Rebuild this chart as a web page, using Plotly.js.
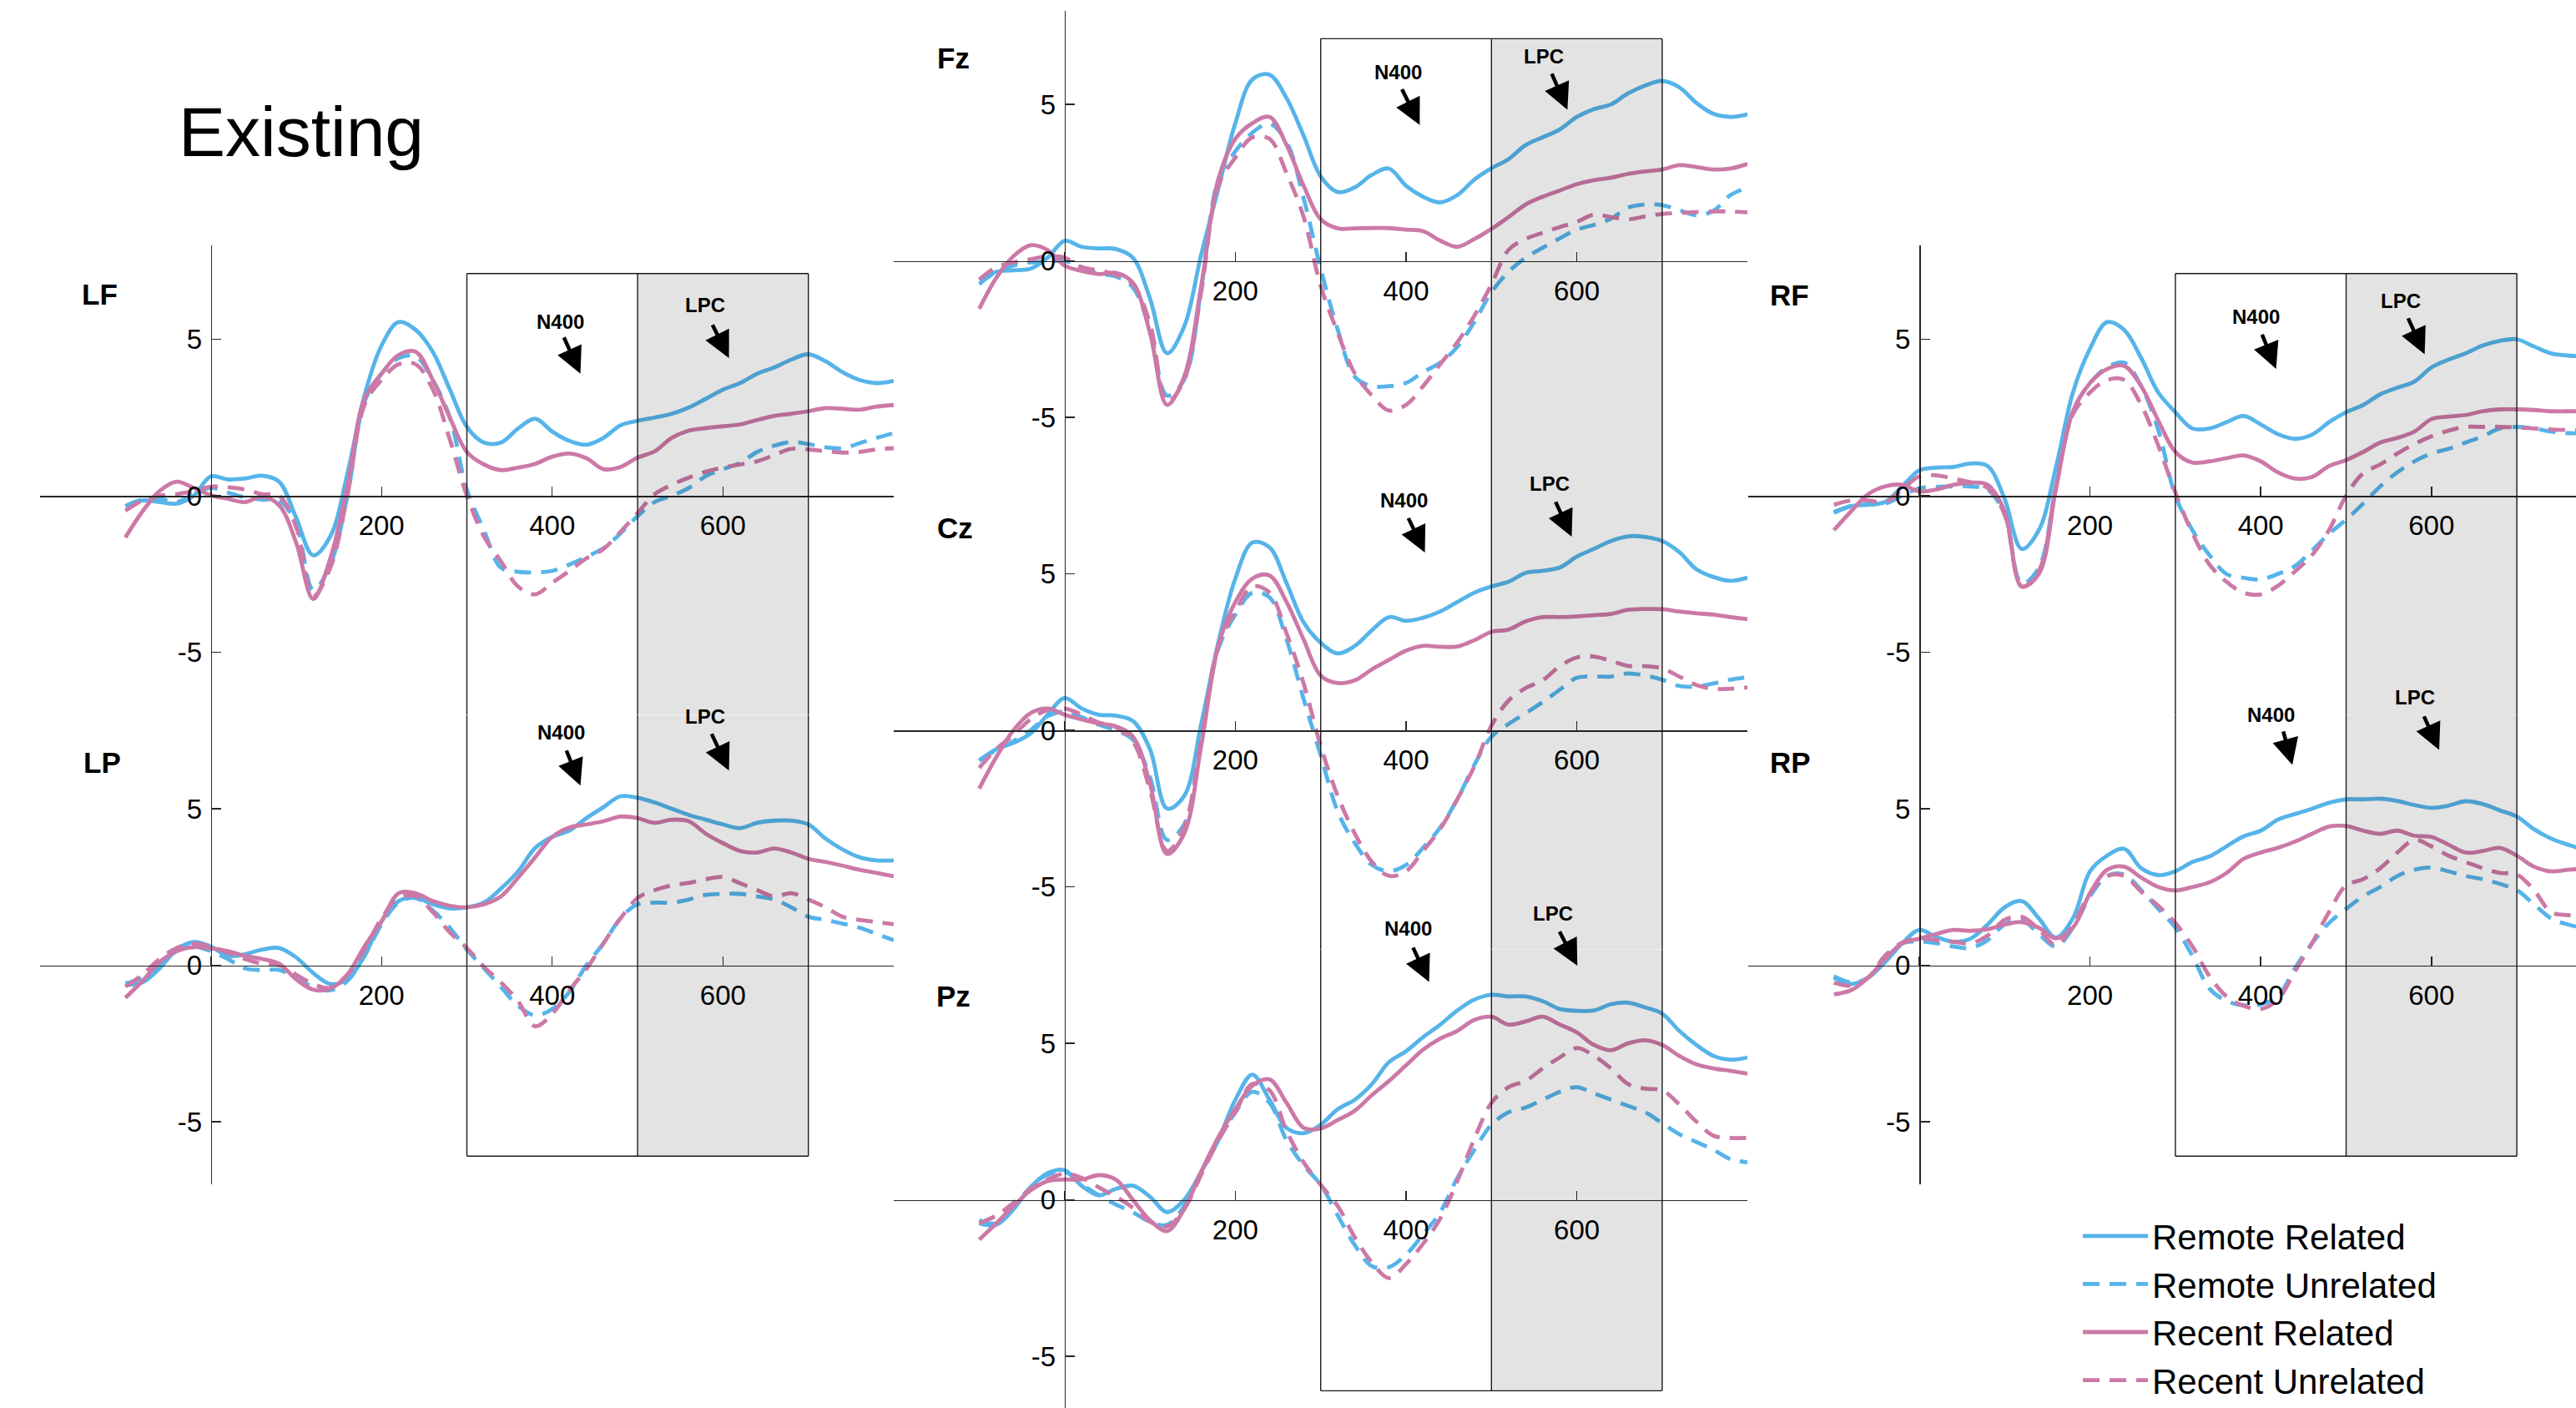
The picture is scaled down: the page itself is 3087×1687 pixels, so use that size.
<!DOCTYPE html>
<html>
<head>
<meta charset="utf-8">
<script src="https://cdn.plot.ly/plotly-3.0.1.min.js"></script>
<style>
html,body{margin:0;padding:0;background:#ffffff;overflow:hidden;}
#chart{width:3087px;height:1687px;}
</style>
</head>
<body>
<div id="chart"></div>
<script>
// ---------------- DATA ----------------
const time = [-100,-80,-60,-40,-20,0,20,40,60,80,100,120,140,160,180,200,220,240,260,280,300,320,340,360,380,400,420,440,460,480,500,520,540,560,580,600,620,640,660,680,700,720,740,760,780,800];

const conditionNames = ['Remote Related','Remote Unrelated','Recent Related','Recent Unrelated'];
const panelNames = ['LF','LP','Fz','Cz','Pz','RF','RP'];

const LF_remoteRelated    = [-0.33,-0.15,-0.2,-0.25,0.0,0.62,0.52,0.55,0.64,0.45,-0.7,-1.9,-1.3,0.7,3.2,4.8,5.55,5.3,4.6,3.4,2.2,1.7,1.7,2.15,2.46,2.05,1.75,1.63,1.85,2.25,2.4,2.5,2.62,2.82,3.1,3.39,3.6,3.9,4.1,4.35,4.52,4.3,3.95,3.7,3.6,3.67];
const LF_remoteUnrelated  = [-0.33,-0.12,-0.1,-0.2,0.05,0.25,0.1,-0.05,-0.12,-0.15,-0.9,-3.0,-2.2,0.0,3.0,3.9,4.4,4.45,3.7,2.5,0.2,-1.1,-2.3,-2.43,-2.45,-2.4,-2.2,-1.95,-1.67,-1.2,-0.65,-0.2,0.0,0.25,0.63,0.85,1.05,1.4,1.6,1.72,1.65,1.55,1.52,1.68,1.85,2.0];
const LF_recentRelated    = [-1.33,-0.5,0.15,0.45,0.25,0.02,-0.1,-0.2,-0.03,-0.3,-1.5,-3.3,-2.0,0.3,3.1,3.9,4.5,4.6,3.7,2.5,1.4,1.0,0.82,0.9,1.02,1.25,1.35,1.2,0.85,0.92,1.22,1.42,1.85,2.08,2.16,2.22,2.28,2.42,2.55,2.62,2.7,2.8,2.78,2.75,2.85,2.9];
const LF_recentUnrelated  = [-0.48,-0.15,0.0,0.05,0.15,0.29,0.27,0.2,0.05,0.0,-1.0,-3.2,-2.3,0.0,2.9,3.7,4.2,4.2,3.4,1.8,0.0,-1.3,-2.1,-2.9,-3.15,-2.78,-2.4,-2.0,-1.7,-1.15,-0.55,0.05,0.35,0.58,0.77,0.9,1.0,1.1,1.3,1.5,1.48,1.42,1.38,1.4,1.48,1.52];

const LP_remoteRelated    = [-0.63,-0.55,-0.1,0.5,0.74,0.6,0.3,0.35,0.5,0.55,0.25,-0.25,-0.6,-0.45,0.3,1.4,2.05,2.15,1.95,1.82,1.85,2.0,2.45,3.0,3.75,4.1,4.3,4.7,5.05,5.4,5.35,5.2,5.0,4.8,4.65,4.5,4.38,4.55,4.62,4.62,4.5,4.05,3.7,3.45,3.35,3.35];
const LP_remoteUnrelated  = [-0.58,-0.4,0.0,0.45,0.6,0.45,0.2,-0.1,-0.15,-0.15,-0.4,-0.7,-0.8,-0.5,0.3,1.3,2.0,2.15,1.75,1.2,0.5,-0.1,-0.7,-1.3,-1.6,-1.4,-0.85,0.0,0.7,1.5,1.95,2.0,2.0,2.1,2.25,2.28,2.28,2.2,2.1,1.85,1.55,1.45,1.33,1.2,1.0,0.8];
const LP_recentRelated    = [-1.04,-0.5,0.1,0.45,0.58,0.54,0.45,0.3,0.2,0.05,-0.45,-0.78,-0.75,-0.3,0.6,1.4,2.3,2.3,2.05,1.9,1.85,1.95,2.2,2.8,3.45,4.1,4.4,4.5,4.6,4.75,4.7,4.55,4.65,4.6,4.2,3.9,3.65,3.6,3.73,3.6,3.4,3.3,3.18,3.05,2.95,2.84];
const LP_recentUnrelated  = [-0.68,-0.3,0.2,0.55,0.69,0.6,0.4,0.2,0.05,0.0,-0.3,-0.6,-0.72,-0.3,0.5,1.5,2.15,2.2,1.7,1.05,0.55,-0.05,-0.55,-1.15,-1.95,-1.55,-0.8,-0.12,0.7,1.5,2.15,2.4,2.55,2.63,2.75,2.82,2.62,2.4,2.2,2.3,2.1,1.85,1.55,1.45,1.38,1.31];

const Fz_remoteRelated    = [-0.6,-0.35,-0.3,-0.25,0.1,0.64,0.45,0.4,0.38,0.1,-1.2,-2.95,-2.1,0.2,2.3,4.4,5.8,5.95,5.2,4.0,2.7,2.2,2.35,2.75,2.95,2.4,2.05,1.87,2.1,2.6,2.96,3.25,3.7,3.95,4.2,4.6,4.85,5.0,5.35,5.6,5.75,5.55,5.05,4.7,4.6,4.68];
const Fz_remoteUnrelated  = [-0.74,-0.35,-0.15,-0.05,-0.02,0.0,-0.2,-0.4,-0.5,-0.85,-2.2,-4.3,-3.8,-0.9,2.6,3.5,4.1,4.38,3.8,2.0,-0.25,-2.2,-3.7,-4.0,-4.0,-3.9,-3.55,-3.25,-2.75,-1.95,-1.0,-0.35,0.1,0.42,0.72,1.0,1.15,1.35,1.7,1.8,1.78,1.62,1.46,1.6,2.1,2.35];
const Fz_recentRelated    = [-1.53,-0.54,0.15,0.5,0.35,-0.15,-0.32,-0.42,-0.38,-0.7,-2.3,-4.6,-3.7,-0.8,2.6,3.9,4.4,4.6,3.7,2.4,1.33,1.04,1.04,1.05,1.05,1.0,0.95,0.65,0.45,0.7,1.02,1.4,1.8,2.05,2.25,2.45,2.58,2.66,2.78,2.86,2.92,3.06,3.0,2.92,2.95,3.1];
const Fz_recentUnrelated  = [-0.6,-0.2,-0.05,0.05,0.15,0.1,-0.2,-0.3,-0.45,-0.75,-2.0,-4.5,-3.8,-1.0,2.4,3.3,3.95,3.9,2.8,1.4,-0.8,-2.3,-3.6,-4.3,-4.78,-4.6,-4.0,-3.3,-2.6,-1.75,-0.75,0.35,0.7,0.9,1.08,1.25,1.48,1.4,1.33,1.42,1.5,1.53,1.56,1.58,1.58,1.55];

const Cz_remoteRelated    = [-0.96,-0.6,-0.4,-0.1,0.5,1.03,0.7,0.5,0.47,0.3,-0.6,-2.5,-2.1,0.2,2.8,4.85,6.0,5.85,4.7,3.45,2.8,2.46,2.7,3.2,3.62,3.5,3.6,3.8,4.1,4.4,4.6,4.75,5.03,5.1,5.2,5.55,5.8,6.05,6.2,6.18,6.05,5.7,5.15,4.9,4.78,4.88];
const Cz_remoteUnrelated  = [-0.96,-0.63,-0.35,0.0,0.45,0.6,0.42,0.18,0.0,-0.3,-1.5,-3.5,-3.0,-0.3,2.6,3.7,4.4,4.25,2.9,1.0,-0.8,-2.6,-3.6,-4.3,-4.5,-4.3,-3.75,-3.1,-2.2,-1.1,-0.2,0.2,0.55,0.9,1.3,1.68,1.72,1.72,1.82,1.75,1.62,1.42,1.4,1.5,1.62,1.7];
const Cz_recentRelated    = [-1.86,-0.85,0.0,0.55,0.7,0.5,0.35,0.22,0.13,-0.2,-1.7,-3.95,-3.3,-0.5,2.7,4.1,4.85,4.95,4.1,2.9,1.75,1.51,1.6,1.95,2.25,2.55,2.7,2.67,2.68,2.88,3.15,3.22,3.48,3.62,3.62,3.64,3.68,3.72,3.85,3.88,3.87,3.8,3.74,3.7,3.62,3.55];
const Cz_recentUnrelated  = [-1.2,-0.6,-0.15,0.35,0.65,0.7,0.5,0.25,0.1,-0.35,-1.9,-3.85,-3.1,-0.3,2.7,3.8,4.6,4.4,3.1,1.5,-0.5,-2.1,-3.3,-4.2,-4.65,-4.5,-3.85,-3.15,-2.2,-1.15,0.15,0.95,1.35,1.6,2.05,2.33,2.36,2.22,2.06,2.05,1.98,1.72,1.45,1.33,1.33,1.37];

const Pz_remoteRelated    = [-0.75,-0.8,-0.3,0.4,0.85,0.95,0.45,0.15,0.35,0.45,0.1,-0.39,0.0,0.9,1.9,3.2,4.0,3.2,2.3,2.13,2.4,2.9,3.2,3.7,4.4,4.75,5.2,5.6,6.05,6.4,6.55,6.5,6.5,6.35,6.1,6.04,6.05,6.25,6.3,6.15,5.95,5.4,4.95,4.6,4.48,4.55];
const Pz_remoteUnrelated  = [-0.65,-0.75,-0.3,0.4,0.8,0.9,0.5,0.15,-0.15,-0.4,-0.7,-0.8,-0.2,0.9,1.9,2.8,3.45,3.1,1.9,1.1,0.48,-0.5,-1.45,-2.12,-2.15,-1.75,-1.1,-0.4,0.7,1.6,2.4,2.8,2.95,3.2,3.45,3.6,3.4,3.2,3.0,2.8,2.45,2.1,1.85,1.6,1.3,1.2];
const Pz_recentRelated    = [-1.27,-0.75,-0.2,0.3,0.6,0.65,0.65,0.79,0.65,0.0,-0.65,-1.0,-0.3,0.9,2.0,2.9,3.65,3.85,3.1,2.3,2.28,2.55,2.85,3.35,3.8,4.3,4.8,5.15,5.4,5.75,5.85,5.6,5.7,5.85,5.6,5.35,4.95,4.78,5.0,5.1,4.95,4.6,4.33,4.2,4.12,4.03];
const Pz_recentUnrelated  = [-0.75,-0.5,-0.1,0.35,0.65,0.84,0.7,0.4,0.1,-0.25,-0.7,-0.85,-0.3,0.8,1.9,2.8,3.7,3.5,2.2,1.2,0.48,-0.2,-1.2,-2.0,-2.5,-2.05,-1.4,-0.6,0.6,1.95,3.1,3.6,3.8,4.2,4.55,4.85,4.6,4.2,3.7,3.55,3.5,3.05,2.5,2.05,1.98,1.98];

const RF_remoteRelated    = [-0.52,-0.33,-0.28,-0.2,0.3,0.81,0.9,0.92,1.03,0.95,-0.1,-1.7,-1.1,0.9,3.3,4.7,5.55,5.3,4.4,3.3,2.67,2.15,2.15,2.35,2.55,2.28,1.97,1.82,1.95,2.35,2.67,2.9,3.24,3.45,3.65,4.1,4.35,4.55,4.8,4.95,5.0,4.77,4.55,4.48,4.45,4.45];
const RF_remoteUnrelated  = [-0.55,-0.33,-0.28,-0.25,0.0,0.24,0.28,0.3,0.3,0.2,-0.6,-2.8,-2.3,0.3,2.7,3.6,4.1,4.25,3.5,2.1,0.0,-1.1,-1.9,-2.5,-2.62,-2.67,-2.5,-2.25,-1.75,-1.22,-0.76,-0.25,0.3,0.75,1.1,1.35,1.5,1.7,1.9,2.15,2.2,2.15,2.05,2.0,2.0,2.0];
const RF_recentRelated    = [-1.1,-0.5,0.05,0.3,0.35,0.14,0.2,0.35,0.42,0.35,-0.5,-2.9,-2.5,0.2,2.7,3.6,4.05,4.15,3.5,2.4,1.4,1.06,1.1,1.2,1.29,1.1,0.75,0.55,0.6,0.95,1.14,1.4,1.7,1.85,2.05,2.45,2.53,2.58,2.7,2.76,2.76,2.74,2.7,2.7,2.7,2.7];
const RF_recentUnrelated  = [-0.29,-0.15,-0.15,-0.2,0.2,0.62,0.65,0.55,0.43,0.25,-0.6,-2.9,-2.4,0.3,2.6,3.3,3.7,3.7,2.9,1.6,0.1,-1.2,-2.2,-2.75,-3.1,-3.15,-2.88,-2.42,-1.9,-1.1,0.0,0.72,1.0,1.35,1.65,1.9,2.08,2.2,2.2,2.2,2.18,2.15,2.12,2.1,2.1,2.1];

const RP_remoteRelated    = [-0.4,-0.6,-0.4,0.1,0.7,1.13,0.9,0.75,0.85,1.3,1.85,2.05,1.5,0.88,1.5,3.0,3.5,3.72,3.1,2.88,3.0,3.3,3.48,3.8,4.12,4.3,4.65,4.83,5.0,5.19,5.3,5.3,5.32,5.25,5.12,5.03,5.1,5.24,5.15,4.95,4.75,4.35,4.05,3.85,3.7,3.7];
const RP_remoteUnrelated  = [-0.35,-0.55,-0.4,0.3,0.7,0.76,0.7,0.6,0.55,0.8,1.3,1.45,1.0,0.6,1.2,2.2,2.85,2.9,2.4,1.8,1.2,0.3,-0.75,-1.14,-1.28,-1.25,-1.0,-0.1,0.7,1.35,1.8,2.2,2.5,2.85,3.05,3.12,3.0,2.85,2.75,2.6,2.4,1.95,1.5,1.3,1.18,1.15];
const RP_recentRelated    = [-0.93,-0.8,-0.4,0.2,0.7,0.85,1.0,1.13,1.1,1.15,1.3,1.38,1.2,0.86,1.2,2.3,3.05,3.15,2.8,2.5,2.39,2.5,2.65,2.95,3.4,3.6,3.75,3.95,4.2,4.43,4.45,4.3,4.2,4.3,4.14,4.1,3.85,3.6,3.65,3.75,3.5,3.15,3.0,3.05,3.08,3.08];
const RP_recentUnrelated  = [-0.56,-0.65,-0.4,0.3,0.72,0.85,0.8,0.75,0.7,0.95,1.45,1.55,1.15,0.65,1.3,2.3,2.85,2.85,2.35,1.9,1.35,0.6,-0.35,-1.0,-1.3,-1.4,-1.1,-0.2,0.7,1.7,2.55,2.75,3.1,3.6,4.0,3.8,3.5,3.3,3.1,2.95,2.9,2.4,1.7,1.6,1.6,1.6];

const xTickVals = [-200,0,200,400,600,800];
const xTickText = ['','','200','400','600',''];
const yTickVals = [-5,0,5];
const yTickText = ['-5','0','5'];
const windowN400 = [300,500];
const windowLPC  = [500,700];

// ---------------- LAYOUT GEOMETRY (pixels) ----------------
const W = 3087, H = 1687;
const FONT = 'Liberation Sans, Arial, Helvetica, sans-serif';
const pxPerMs = 1.023, pxPerUv = 37.5;
const colZeroX = [252.6, 1275.8, 2300];
const panelSeries = {
  LF:[LF_remoteRelated,LF_remoteUnrelated,LF_recentRelated,LF_recentUnrelated],
  LP:[LP_remoteRelated,LP_remoteUnrelated,LP_recentRelated,LP_recentUnrelated],
  Fz:[Fz_remoteRelated,Fz_remoteUnrelated,Fz_recentRelated,Fz_recentUnrelated],
  Cz:[Cz_remoteRelated,Cz_remoteUnrelated,Cz_recentRelated,Cz_recentUnrelated],
  Pz:[Pz_remoteRelated,Pz_remoteUnrelated,Pz_recentRelated,Pz_recentUnrelated],
  RF:[RF_remoteRelated,RF_remoteUnrelated,RF_recentRelated,RF_recentUnrelated],
  RP:[RP_remoteRelated,RP_remoteUnrelated,RP_recentRelated,RP_recentUnrelated]
};
const panelGeom = {
  LF:{col:0, zeroY:594,    yr:[-7,8],     box:[-7,7.1], topLine:true,  botLine:false},
  LP:{col:0, zeroY:1156.5, yr:[-7,8],     box:[-6.1,8], topLine:false, botLine:true},
  Fz:{col:1, zeroY:312.6,  yr:[-7,8],     box:[-7,7.1], topLine:true,  botLine:false},
  Cz:{col:1, zeroY:875.1,  yr:[-7,8],     box:[-7,8],   topLine:false, botLine:false},
  Pz:{col:1, zeroY:1437.6, yr:[-(1687-1437.6)/37.5,9.6], box:[-6.1,8], topLine:false, botLine:true},
  RF:{col:2, zeroY:594,    yr:[-7,8],     box:[-7,7.1], topLine:true,  botLine:false},
  RP:{col:2, zeroY:1156.5, yr:[-7,9.6],   box:[-6.1,8], topLine:false, botLine:true}
};
const panelAnnot = {
  LF:{label:[-130,6.45], n400:[409,5.57], n400Arrow:[413,5.1,433,3.9],  lpc:[579,6.1],  lpcArrow:[587,5.5,607,4.4]},
  LP:{label:[-127,6.49], n400:[410,7.45], n400Arrow:[416,6.9,433,5.74], lpc:[579,7.94], lpcArrow:[586,7.43,607,6.22]},
  Fz:{label:[-130,6.47], n400:[391,6.02], n400Arrow:[394.5,5.52,416,4.34], lpc:[561.5,6.53], lpcArrow:[570,6.02,589,4.83]},
  Cz:{label:[-128,6.47], n400:[398,7.34], n400Arrow:[402,6.82,422,5.68], lpc:[568,7.87], lpcArrow:[574.5,7.34,594,6.19]},
  Pz:{label:[-130,6.5],  n400:[402.5,8.66], n400Arrow:[407.5,8.1,427,6.96], lpc:[572,9.15], lpcArrow:[579,8.61,600.6,7.48]},
  RF:{label:[-152,6.42], n400:[394.7,5.71], n400Arrow:[401,5.19,418,4.05], lpc:[564.5,6.24], lpcArrow:[572,5.71,592,4.52]},
  RP:{label:[-151,6.48], n400:[412,7.99], n400Arrow:[426,7.51,437,6.4], lpc:[581,8.57], lpcArrow:[590.6,7.99,609,6.88]}
};
const BLUE = '#56B4E9', PINK = '#CC79A7';
const DASH = '20px,12px';
const condStyle = [
  {color:BLUE, dash:'solid'},
  {color:BLUE, dash:DASH},
  {color:PINK, dash:'solid'},
  {color:PINK, dash:DASH}
];

const clamp = v => Math.max(0, Math.min(1, v));
const traces = [];
const layout = {
  width: W, height: H,
  margin:{l:0,r:0,t:0,b:0,pad:0,autoexpand:false},
  paper_bgcolor:'#ffffff',
  plot_bgcolor:'rgba(0,0,0,0)',
  font:{family:FONT, color:'#000000', size:33},
  title:{text:'Existing', x:361/W, xanchor:'center', y:1-157.6/H, yanchor:'middle', xref:'paper', yref:'paper',
         font:{family:FONT, size:84, color:'#000000'}, automargin:false},
  showlegend:true,
  legend:{x:2491/W, xanchor:'left', y:1-1447/H, yanchor:'top', bgcolor:'rgba(0,0,0,0)', borderwidth:0,
          font:{family:FONT, size:42, color:'#000000'}, itemwidth:78, tracegroupgap:0, traceorder:'normal'},
  shapes:[], annotations:[]
};

panelNames.forEach((name, i) => {
  const g = panelGeom[name];
  const zx = colZeroX[g.col];
  const xMax = Math.min(800, (W - zx)/pxPerMs);
  const sfx = i === 0 ? '' : String(i+1);
  const xa = 'xaxis' + sfx, ya = 'yaxis' + sfx;
  const xr = 'x' + sfx, yr = 'y' + sfx;
  layout[xa] = {
    domain:[clamp((zx - 200*pxPerMs)/W), clamp((zx + xMax*pxPerMs)/W)],
    range:[-200, xMax], anchor:'free', position: 1 - g.zeroY/H,
    showline:true, linecolor:'#262626', linewidth:1.6, mirror:false,
    showgrid:false, zeroline:false,
    ticks:'inside', ticklen:11, tickwidth:1.4, tickcolor:'#262626',
    tickmode:'array', tickvals:xTickVals, ticktext:xTickText,
    tickfont:{family:FONT, size:33, color:'#000'}, ticklabelstandoff:6,
    fixedrange:true
  };
  layout[ya] = {
    domain:[clamp(1 - (g.zeroY - g.yr[0]*pxPerUv)/H), clamp(1 - (g.zeroY - g.yr[1]*pxPerUv)/H)],
    range:g.yr, anchor:'free', position: zx/W, side:'left',
    showline:true, linecolor:'#262626', linewidth:1.6,
    showgrid:false, zeroline:false,
    ticks:'inside', ticklen:11, tickwidth:1.4, tickcolor:'#262626',
    tickmode:'array', tickvals:yTickVals, ticktext:yTickText,
    tickfont:{family:FONT, size:33, color:'#000'}, ticklabelstandoff:4,
    fixedrange:true
  };

  // traces
  panelSeries[name].forEach((vals, c) => {
    traces.push({
      type:'scatter', mode:'lines', x:time, y:vals, xaxis:xr, yaxis:yr,
      name:conditionNames[c], legendgroup:conditionNames[c], showlegend: i === 0,
      line:{color:condStyle[c].color, dash:condStyle[c].dash, width:4.8, shape:'spline', smoothing:1},
      hoverinfo:'skip'
    });
  });

  // analysis windows
  const b = g.box;
  layout.shapes.push({type:'rect', xref:xr, yref:yr, x0:windowLPC[0], x1:windowLPC[1], y0:b[0], y1:b[1],
    fillcolor:'rgba(0,0,0,0.11)', line:{width:0}, layer:'above'});
  [windowN400[0], windowN400[1], windowLPC[1]].forEach(xv => {
    layout.shapes.push({type:'line', xref:xr, yref:yr, x0:xv, x1:xv, y0:b[0], y1:b[1],
      line:{color:'#1a1a1a', width:1.4}, layer:'above'});
  });
  if (g.topLine) layout.shapes.push({type:'line', xref:xr, yref:yr, x0:windowN400[0], x1:windowLPC[1], y0:b[1], y1:b[1],
      line:{color:'#1a1a1a', width:1.4}, layer:'above'});
  if (g.botLine) layout.shapes.push({type:'line', xref:xr, yref:yr, x0:windowN400[0], x1:windowLPC[1], y0:b[0], y1:b[0],
      line:{color:'#1a1a1a', width:1.4}, layer:'above'});

  // annotations
  const a = panelAnnot[name];
  layout.annotations.push({xref:xr, yref:yr, x:a.label[0], y:a.label[1], text:'<b>'+name+'</b>', showarrow:false,
    xanchor:'center', yanchor:'middle', font:{family:FONT, size:35, color:'#000'}});
  layout.annotations.push({xref:xr, yref:yr, x:a.n400[0], y:a.n400[1], text:'<b>N400</b>', showarrow:false,
    xanchor:'center', yanchor:'middle', font:{family:FONT, size:24, color:'#000'}});
  layout.annotations.push({xref:xr, yref:yr, x:a.lpc[0], y:a.lpc[1], text:'<b>LPC</b>', showarrow:false,
    xanchor:'center', yanchor:'middle', font:{family:FONT, size:24, color:'#000'}});
  [a.n400Arrow, a.lpcArrow].forEach(ar => {
    layout.annotations.push({xref:xr, yref:yr, axref:xr, ayref:yr, x:ar[2], y:ar[3], ax:ar[0], ay:ar[1],
      text:'', showarrow:true, arrowhead:2, arrowsize:1.4, arrowwidth:4.5, arrowcolor:'#000', standoff:0, startstandoff:0});
  });
});

Plotly.newPlot('chart', traces, layout, {staticPlot:true, displayModeBar:false});
</script>
</body>
</html>
